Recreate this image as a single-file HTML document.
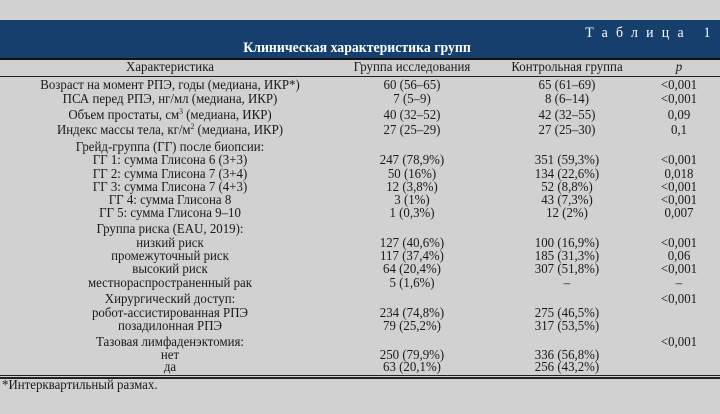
<!DOCTYPE html>
<html><head><meta charset="utf-8"><style>
body{margin:0;width:720px;height:414px;background:#d1d1d1;position:relative;overflow:hidden;font-family:"Liberation Serif","DejaVu Serif",serif;color:#1a1a1a;}
.b{position:absolute;left:0;top:20px;width:720px;height:38px;background:#173f6e;}
.t{position:absolute;white-space:nowrap;font-size:14px;line-height:14px;transform:translate(-50%,-50%) scaleX(.92);}
.l{position:absolute;left:0;width:720px;background:#222;}
sup{font-size:8px;line-height:0;vertical-align:5px;}
</style></head><body>
<div class="b"></div>
<div class="t" style="left:652px;top:33px;color:#fff;font-size:15px;letter-spacing:9px;">Таблица 1</div>
<div class="t" style="left:357px;top:48px;color:#fff;font-weight:bold;font-size:15px;">Клиническая характеристика групп</div>
<div class="l" style="top:58px;height:2px;background:#111"></div>
<div class="l" style="top:76px;height:1px"></div>
<div class="l" style="top:375px;height:1px"></div>
<div class="l" style="top:377px;height:2px"></div>
<div class="t" style="top:386px;transform:translate(0,-50%) scaleX(.92);transform-origin:left;left:2px">*Интерквартильный размах.</div>
<div id="rows"></div>
<script>
var R=[
[68,"Характеристика","Группа исследования","Контрольная группа","<i>p</i>"],
[86,"Возраст на момент РПЭ, годы (медиана, ИКР*)","60 (56–65)","65 (61–69)","&lt;0,001"],
[100,"ПСА перед РПЭ, нг/мл (медиана, ИКР)","7 (5–9)","8 (6–14)","&lt;0,001"],
[116,"Объем простаты, см<sup>3</sup> (медиана, ИКР)","40 (32–52)","42 (32–55)","0,09"],
[131,"Индекс массы тела, кг/м<sup>2</sup> (медиана, ИКР)","27 (25–29)","27 (25–30)","0,1"],
[148,"Грейд-группа (ГГ) после биопсии:","","",""],
[161,"ГГ 1: сумма Глисона 6 (3+3)","247 (78,9%)","351 (59,3%)","&lt;0,001"],
[175,"ГГ 2: сумма Глисона 7 (3+4)","50 (16%)","134 (22,6%)","0,018"],
[188,"ГГ 3: сумма Глисона 7 (4+3)","12 (3,8%)","52 (8,8%)","&lt;0,001"],
[201,"ГГ 4: сумма Глисона 8","3 (1%)","43 (7,3%)","&lt;0,001"],
[214,"ГГ 5: сумма Глисона 9–10","1 (0,3%)","12 (2%)","0,007"],
[230,"Группа риска (EAU, 2019):","","",""],
[244,"низкий риск","127 (40,6%)","100 (16,9%)","&lt;0,001"],
[257,"промежуточный риск","117 (37,4%)","185 (31,3%)","0,06"],
[270,"высокий риск","64 (20,4%)","307 (51,8%)","&lt;0,001"],
[284,"местнораспространенный рак","5 (1,6%)","–","–"],
[300,"Хирургический доступ:","","","&lt;0,001"],
[314,"робот-ассистированная РПЭ","234 (74,8%)","275 (46,5%)",""],
[327,"позадилонная РПЭ","79 (25,2%)","317 (53,5%)",""],
[343,"Тазовая лимфаденэктомия:","","","&lt;0,001"],
[356,"нет","250 (79,9%)","336 (56,8%)",""],
[368,"да","63 (20,1%)","256 (43,2%)",""]];
var X=[170,412,567,679],h="";
R.forEach(function(r){for(var i=0;i<4;i++)if(r[i+1])h+='<div class="t" style="left:'+X[i]+'px;top:'+r[0]+'px">'+r[i+1]+'</div>';});
document.getElementById("rows").innerHTML=h;
</script>
</body></html>
